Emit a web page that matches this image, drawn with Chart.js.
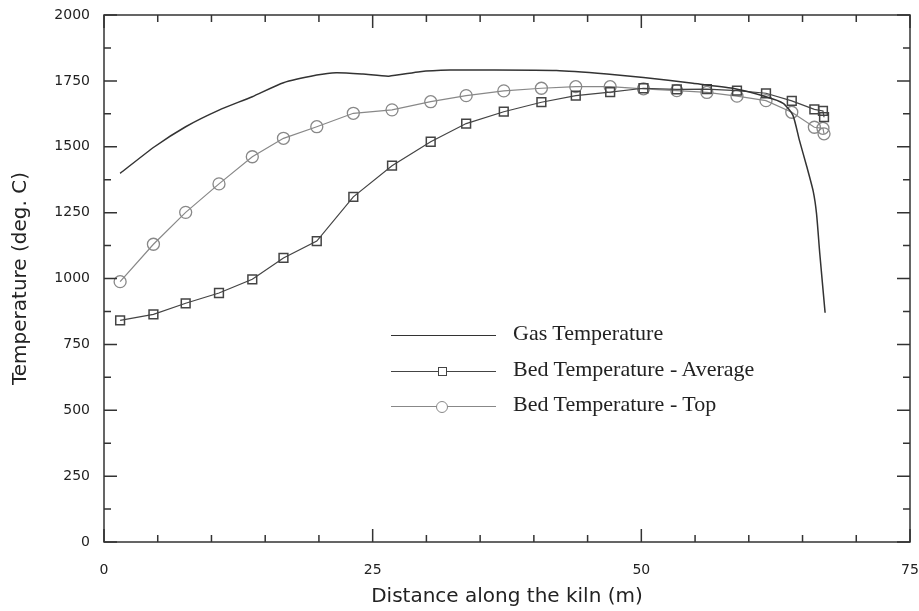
<!DOCTYPE html>
<html>
<head>
<meta charset="utf-8">
<script src="https://cdn.jsdelivr.net/npm/chart.js@4.4.1/dist/chart.umd.min.js"></script>
<style>
  html, body { margin: 0; padding: 0; background: #fff; }
  #wrap { position: relative; width: 919px; height: 611px; }
  #legend { position: absolute; left: 391px; top: 318px; font-family: "Liberation Serif", serif; font-size: 22px; color: #222; }
  .row { position: relative; height: 35.5px; }
  .row .ln { position: absolute; left: 0; width: 105px; top: 17px; border-top: 1.5px solid #333; }
  .row .txt { position: absolute; left: 122px; top: 2px; white-space: nowrap; }
  .mk { position: absolute; background: #fff; box-sizing: border-box; }
  .sq { left: 47px; top: 13px; width: 9px; height: 9px; border: 1.5px solid #444; }
  .ci { left: 45px; top: 12px; width: 12px; height: 12px; border: 1.3px solid #888; border-radius: 50%; }
</style>
</head>
<body>
<div id="wrap">
  <canvas id="kilnChart" width="919" height="611"></canvas>
  <div id="legend">
    <div class="row"><div class="ln"></div><div class="txt">Gas Temperature</div></div>
    <div class="row"><div class="ln" style="border-color:#444"></div><div class="mk sq"></div><div class="txt">Bed Temperature - Average</div></div>
    <div class="row"><div class="ln" style="border-color:#888"></div><div class="mk ci"></div><div class="txt">Bed Temperature - Top</div></div>
  </div>
</div>
<script>
// 沿窑长度的位置 (m)
const bedX = [1.5, 4.6, 7.6, 10.7, 13.8, 16.7, 19.8, 23.2, 26.8, 30.4, 33.7, 37.2, 40.7, 43.9, 47.1, 50.2, 53.3, 56.1, 58.9, 61.6, 64.0, 66.1, 66.9, 67.0];
const bedAvg = [841, 864, 906, 945, 997, 1078, 1142, 1310, 1428, 1519, 1588, 1633, 1669, 1694, 1707, 1722, 1718, 1719, 1713, 1703, 1674, 1642, 1636, 1612];
const bedTop = [988, 1130, 1251, 1359, 1462, 1532, 1576, 1627, 1640, 1671, 1694, 1712, 1722, 1728, 1728, 1720, 1713, 1706, 1692, 1675, 1631, 1574, 1570, 1549];

const gasX = [1.5, 4.7, 7.6, 10.7, 13.8, 16.7, 19.8, 21.6, 24.1, 26.5, 29.4, 32.2, 35.0, 42.1, 46.8, 50.2, 54.8, 58.5, 61.6, 63.2, 64.1, 64.7, 65.4, 66.0, 66.3, 66.6, 67.1];
const gasT = [1399, 1500, 1576, 1639, 1690, 1743, 1772, 1781, 1776, 1768, 1785, 1791, 1791, 1789, 1776, 1763, 1741, 1722, 1690, 1665, 1620, 1526, 1424, 1330, 1247, 1097, 870];

const xLabels = [0, 25, 50, 75];
const yLabels = [0, 250, 500, 750, 1000, 1250, 1500, 1750, 2000];

function pairs(xs, ys) {
    return xs.map((x, i) => ({x: x, y: ys[i]}));
}

// 边框和向内的刻度线
const frameTicks = {
    id: 'frameTicks',
    afterDraw(chart) {
        const ctx = chart.ctx;
        const a = chart.chartArea;
        const xs = chart.scales.x, ys = chart.scales.y;
        ctx.save();
        ctx.strokeStyle = '#333';
        ctx.lineWidth = 1.5;
        ctx.strokeRect(a.left, a.top, a.right - a.left, a.bottom - a.top);
        ctx.beginPath();
        xs.ticks.forEach(t => {
            const px = xs.getPixelForValue(t.value);
            const len = xLabels.includes(t.value) ? 13 : 7;
            ctx.moveTo(px, a.bottom); ctx.lineTo(px, a.bottom - len);
            ctx.moveTo(px, a.top); ctx.lineTo(px, a.top + len);
        });
        ys.ticks.forEach(t => {
            const py = ys.getPixelForValue(t.value);
            const len = yLabels.includes(t.value) ? 13 : 7;
            ctx.moveTo(a.left, py); ctx.lineTo(a.left + len, py);
            ctx.moveTo(a.right, py); ctx.lineTo(a.right - len, py);
        });
        ctx.stroke();
        ctx.restore();
    }
};

const ctx = document.getElementById('kilnChart').getContext('2d');
new Chart(ctx, {
    type: 'line',
    data: {
        datasets: [{
            label: 'Gas Temperature',
            data: pairs(gasX, gasT),
            borderColor: '#333',
            borderWidth: 1.5,
            pointRadius: 0,
            tension: 0.2
        }, {
            label: 'Bed Temperature - Average',
            data: pairs(bedX, bedAvg),
            borderColor: '#444',
            borderWidth: 1.2,
            pointStyle: 'rect',
            pointRadius: 6.2,
            pointBorderColor: '#444',
            pointBorderWidth: 1.5,
            pointBackgroundColor: 'rgba(255,255,255,0)',
            tension: 0
        }, {
            label: 'Bed Temperature - Top',
            data: pairs(bedX, bedTop),
            borderColor: '#888',
            borderWidth: 1.2,
            pointStyle: 'circle',
            pointRadius: 6,
            pointBorderColor: '#888',
            pointBorderWidth: 1.3,
            pointBackgroundColor: 'rgba(255,255,255,0)',
            tension: 0
        }]
    },
    options: {
        responsive: false,
        animation: false,
        layout: { padding: { top: 15, right: 9, left: 0, bottom: 0 } },
        plugins: {
            legend: { display: false },
            tooltip: { enabled: false }
        },
        scales: {
            x: {
                type: 'linear',
                min: 0,
                max: 75,
                grid: { display: false, drawTicks: false },
                border: { display: false },
                ticks: {
                    stepSize: 5,
                    padding: 20,
                    color: '#222',
                    font: { family: 'DejaVu Sans', size: 14 },
                    maxRotation: 0,
                    autoSkip: false,
                    callback: v => xLabels.includes(v) ? String(v) : ''
                },
                title: {
                    display: true,
                    text: 'Distance along the kiln (m)',
                    color: '#222',
                    font: { family: 'DejaVu Sans', size: 20 },
                    padding: { top: 0, bottom: 2 }
                },
                afterFit: s => {
                    s.height = 69;
                    s.paddingLeft = 0;
                    s.paddingRight = 0;
                }
            },
            y: {
                min: 0,
                max: 2000,
                grid: { display: false, drawTicks: false },
                border: { display: false },
                ticks: {
                    stepSize: 125,
                    padding: 14,
                    color: '#222',
                    font: { family: 'DejaVu Sans', size: 14 },
                    autoSkip: false,
                    callback: v => yLabels.includes(v) ? String(v) : ''
                },
                title: {
                    display: true,
                    text: 'Temperature (deg. C)',
                    color: '#222',
                    font: { family: 'DejaVu Sans', size: 20 },
                    padding: { top: 9, bottom: 0 }
                },
                afterFit: s => {
                    s.width = 104;
                    s.paddingTop = 0;
                    s.paddingBottom = 0;
                }
            }
        }
    },
    plugins: [frameTicks]
});
</script>
</body>
</html>
